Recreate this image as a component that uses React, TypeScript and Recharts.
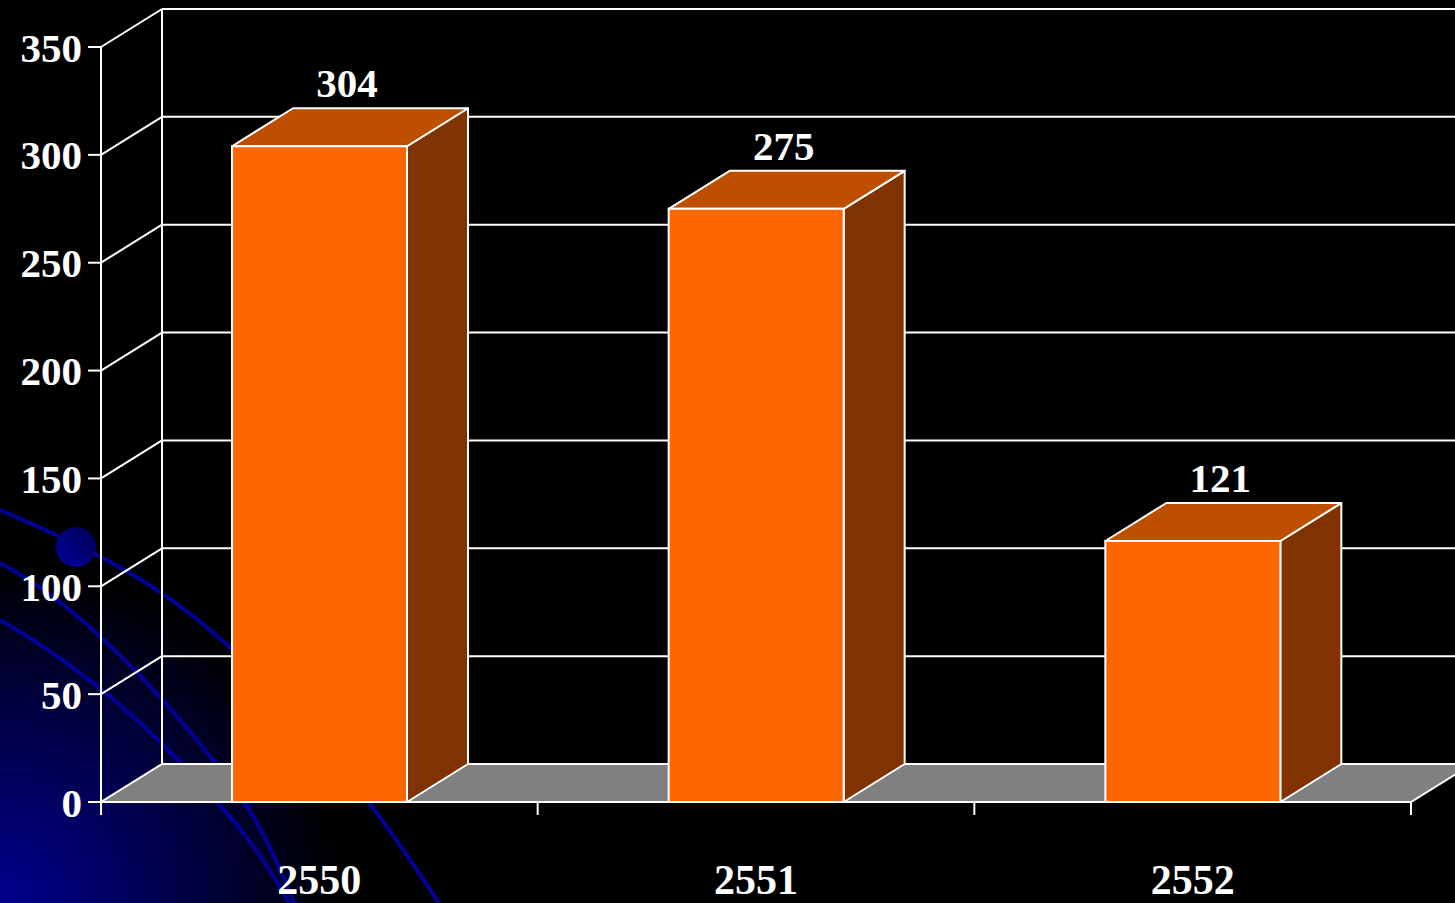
import React from 'react';
import { BarChart, Bar, XAxis, YAxis, CartesianGrid, LabelList } from 'recharts';

const years = ['2550', '2551', '2552'];
const counts = [304, 275, 121];
const yTicks = [0, 50, 100, 150, 200, 250, 300, 350];

const data = years.map((year, i) => ({ year, count: counts[i] }));

const W = 1455;
const H = 903;
const MARGIN = { top: 47, right: 44, bottom: 0, left: 0 };
const Y_AXIS_W = 101;
const X_AXIS_H = 101;
const DX = 61;
const DY = -38;
const PLOT_W = W - Y_AXIS_W - MARGIN.left - MARGIN.right;
const PLOT_BOTTOM = H - X_AXIS_H - MARGIN.bottom;
const BAND = PLOT_W / years.length;

const FONT = '"Liberation Serif", "Times New Roman", serif';
const WHITE = '#ffffff';
const FRONT = '#ff6600';
const TOP = '#bf4f00';
const SIDE = '#803300';
const FLOOR = '#808080';

const GridLine = (props: any) => {
  const { x1, y1, x2 } = props;
  if (y1 >= PLOT_BOTTOM - 0.5) {
    return (
      <g key={props.key}>
        <polygon
          points={`${x1},${y1} ${x2},${y1} ${x2 + DX},${y1 + DY} ${x1 + DX},${y1 + DY}`}
          fill={FLOOR}
          stroke={WHITE}
          strokeWidth={2}
        />
        <line x1={x1 + DX} y1={MARGIN.top + DY} x2={x1 + DX} y2={y1 + DY} stroke={WHITE} strokeWidth={2} />
      </g>
    );
  }
  return (
    <g key={props.key}>
      <line x1={x1} y1={y1} x2={x1 + DX} y2={y1 + DY} stroke={WHITE} strokeWidth={2} />
      <line x1={x1 + DX} y1={y1 + DY} x2={x2 + DX} y2={y1 + DY} stroke={WHITE} strokeWidth={2} />
    </g>
  );
};

const Bar3D = (props: any) => {
  const { x, y, width, height } = props;
  if (width == null || height == null) return null;
  return (
    <g>
      <polygon
        points={`${x + width},${y} ${x + width + DX},${y + DY} ${x + width + DX},${y + height + DY} ${x + width},${y + height}`}
        fill={SIDE}
        stroke={WHITE}
        strokeWidth={2}
        strokeLinejoin="round"
      />
      <polygon
        points={`${x},${y} ${x + DX},${y + DY} ${x + width + DX},${y + DY} ${x + width},${y}`}
        fill={TOP}
        stroke={WHITE}
        strokeWidth={2}
        strokeLinejoin="round"
      />
      <rect x={x} y={y} width={width} height={height} fill={FRONT} stroke={WHITE} strokeWidth={2} />
    </g>
  );
};

const ValueLabel = (props: any) => {
  const { x, y, width, value } = props;
  return (
    <text
      x={x + width / 2 + DX / 2 - 3}
      y={y + DY - 11}
      textAnchor="middle"
      fill={WHITE}
      fontFamily={FONT}
      fontWeight="bold"
      fontSize={41}
    >
      {value}
    </text>
  );
};

const XTick = (props: any) => {
  const { x, payload, index } = props;
  const last = index === years.length - 1;
  const axisY = PLOT_BOTTOM;
  return (
    <g>
      <line x1={x - BAND / 2} y1={axisY} x2={x - BAND / 2} y2={axisY + 13} stroke={WHITE} strokeWidth={2} />
      {last && <line x1={x + BAND / 2} y1={axisY} x2={x + BAND / 2} y2={axisY + 13} stroke={WHITE} strokeWidth={2} />}
      <text x={x} y={axisY + 92} textAnchor="middle" fill={WHITE} fontFamily={FONT} fontWeight="bold" fontSize={42}>
        {payload.value}
      </text>
    </g>
  );
};

const Decoration = () => (
  <svg width={W} height={H} style={{ position: 'absolute', left: 0, top: 0 }}>
    <defs>
      <radialGradient id="glow" cx={0} cy={H} r={340} gradientUnits="userSpaceOnUse">
        <stop offset="0" stopColor="#00008f" />
        <stop offset="0.55" stopColor="#000045" />
        <stop offset="1" stopColor="#000000" />
      </radialGradient>
      <linearGradient id="dot" x1="1" y1="0" x2="0" y2="1">
        <stop offset="0" stopColor="#000050" />
        <stop offset="1" stopColor="#0000a0" />
      </linearGradient>
    </defs>
    <rect x={0} y={0} width={W} height={H} fill="#000" />
    <rect x={0} y={500} width={400} height={403} fill="url(#glow)" />
    <g fill="none" stroke="#00009a" strokeWidth={4}>
      <path d="M0,510 C90,548 180,590 262,680 S372,800 440,905" />
      <path d="M0,563 C60,595 120,650 180,720 S262,822 295,905" />
      <path d="M0,620 C70,660 130,710 180,762 S262,852 290,905" />
    </g>
    <circle cx={76} cy={547} r={20} fill="url(#dot)" />
  </svg>
);

export default function App() {
  return (
    <div style={{ position: 'relative', width: W, height: H, background: '#000', overflow: 'hidden' }}>
      <style>{`body{margin:0;background:#000;}`}</style>
      <Decoration />
      <div style={{ position: 'absolute', left: 0, top: 0 }}>
        <BarChart width={W} height={H} data={data} margin={MARGIN} barCategoryGap="30%">
          <CartesianGrid vertical={false} horizontal={GridLine} stroke={WHITE} />
          <XAxis
            dataKey="year"
            height={X_AXIS_H}
            axisLine={{ stroke: WHITE, strokeWidth: 2 }}
            tickLine={false}
            tickSize={13}
            tickMargin={0}
            interval={0}
            tick={<XTick />}
          />
          <YAxis
            type="number"
            width={Y_AXIS_W}
            domain={[0, 350]}
            ticks={yTicks}
            interval={0}
            axisLine={{ stroke: WHITE, strokeWidth: 2 }}
            tickLine={{ stroke: WHITE, strokeWidth: 2 }}
            tickSize={13}
            tickMargin={6}
            tick={{ fill: WHITE, fontFamily: FONT, fontWeight: 'bold', fontSize: 41 }}
          />
          <Bar dataKey="count" shape={<Bar3D />} isAnimationActive={false}>
            <LabelList dataKey="count" content={<ValueLabel />} />
          </Bar>
        </BarChart>
      </div>
    </div>
  );
}
